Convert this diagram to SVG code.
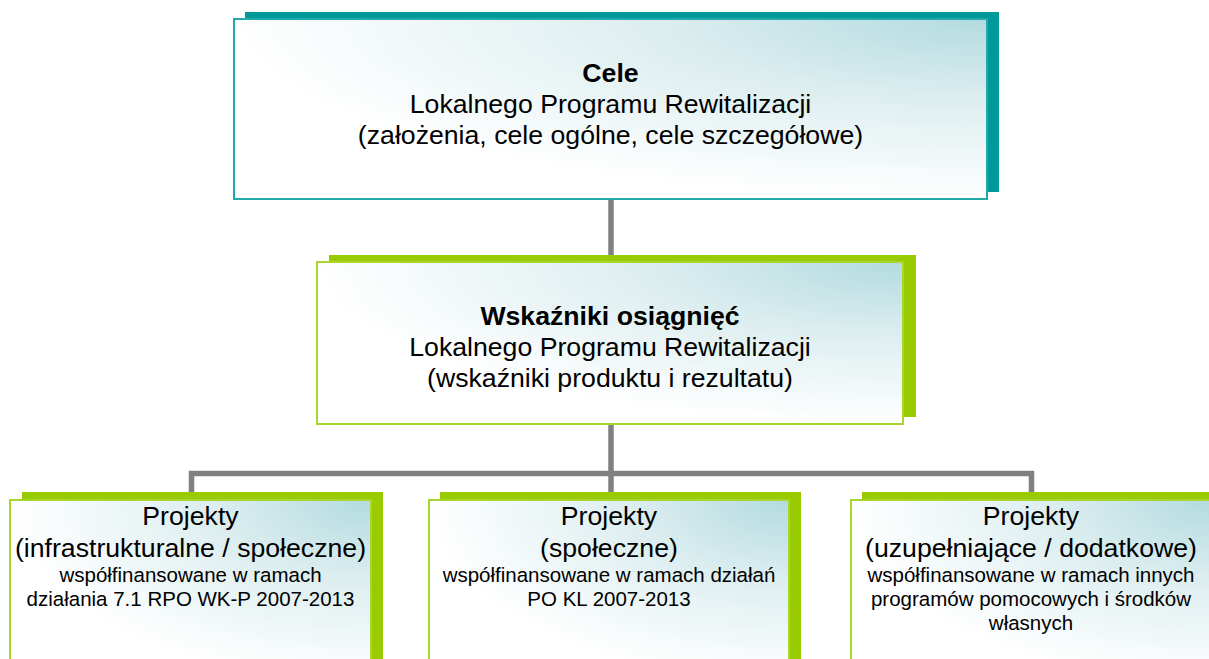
<svg xmlns="http://www.w3.org/2000/svg" width="1209" height="659" viewBox="0 0 1209 659">
  <defs>
    <radialGradient id="fill" cx="1" cy="0" r="1" fx="1" fy="0">
      <stop offset="0" stop-color="#B3DBDF"/>
      <stop offset="0.45" stop-color="#DDEEF0"/>
      <stop offset="1" stop-color="#FFFFFF"/>
    </radialGradient>
  </defs>
  <style>
    .sh-teal { fill: #009999; }
    .sh-green { fill: #99CC00; }
    .box-teal { fill: url(#fill); stroke: #22A9A9; stroke-width: 2; }
    .box-green { fill: url(#fill); stroke: #A9D62C; stroke-width: 2; }
    .conn { fill: none; stroke: #808080; stroke-width: 5.5; stroke-linecap: butt; stroke-linejoin: miter; }
    text { font-family: "Liberation Sans", Arial, sans-serif; fill: #000; text-anchor: middle; }
    .big { font-size: 26.67px; }
    .bold { font-weight: bold; }
    .small { font-size: 20.5px; }
  </style>
  <rect width="1209" height="659" fill="#FFFFFF"/>
  <g id="connectors">
    <path class="conn" d="M611,199 V256"/>
    <path class="conn" d="M611,424 V493"/>
    <path class="conn" d="M191.5,493 V473.5 H1031.5 V493"/>
  </g>
  <g id="node-cele">
    <rect class="sh-teal" x="245" y="12" width="754" height="180"/>
    <rect class="box-teal" x="234" y="19" width="753" height="180"/>
    <text class="big bold" x="610.5" y="82">Cele</text>
    <text class="big" x="610.5" y="113">Lokalnego Programu Rewitalizacji</text>
    <text class="big" x="610.5" y="144">(założenia, cele ogólne, cele szczegółowe)</text>
  </g>
  <g id="node-wskazniki">
    <rect class="sh-green" x="329" y="255" width="587" height="162"/>
    <rect class="box-green" x="317" y="262" width="586" height="162"/>
    <text class="big bold" x="610" y="325">Wskaźniki osiągnięć</text>
    <text class="big" x="610" y="356">Lokalnego Programu Rewitalizacji</text>
    <text class="big" x="610" y="387">(wskaźniki produktu i rezultatu)</text>
  </g>
  <g id="node-projekty-1">
    <rect class="sh-green" x="22" y="492" width="361" height="180"/>
    <rect class="box-green" x="10" y="500" width="361" height="180"/>
    <text class="big" x="190.5" y="525">Projekty</text>
    <text class="big" x="190.5" y="557">(infrastrukturalne / społeczne)</text>
    <text class="small" x="190.5" y="582">współfinansowane w ramach</text>
    <text class="small" x="190.5" y="606">działania 7.1 RPO WK-P 2007-2013</text>
  </g>
  <g id="node-projekty-2">
    <rect class="sh-green" x="440" y="492" width="361" height="180"/>
    <rect class="box-green" x="429" y="500" width="360" height="180"/>
    <text class="big" x="609" y="525">Projekty</text>
    <text class="big" x="609" y="557">(społeczne)</text>
    <text class="small" x="609" y="582">współfinansowane w ramach działań</text>
    <text class="small" x="609" y="606">PO KL 2007-2013</text>
  </g>
  <g id="node-projekty-3">
    <rect class="sh-green" x="862" y="492" width="361" height="180"/>
    <rect class="box-green" x="851" y="500" width="360" height="180"/>
    <text class="big" x="1031" y="525">Projekty</text>
    <text class="big" x="1031" y="557">(uzupełniające / dodatkowe)</text>
    <text class="small" x="1031" y="582">współfinansowane w ramach innych</text>
    <text class="small" x="1031" y="606">programów pomocowych i środków</text>
    <text class="small" x="1031" y="630">własnych</text>
  </g>
</svg>
